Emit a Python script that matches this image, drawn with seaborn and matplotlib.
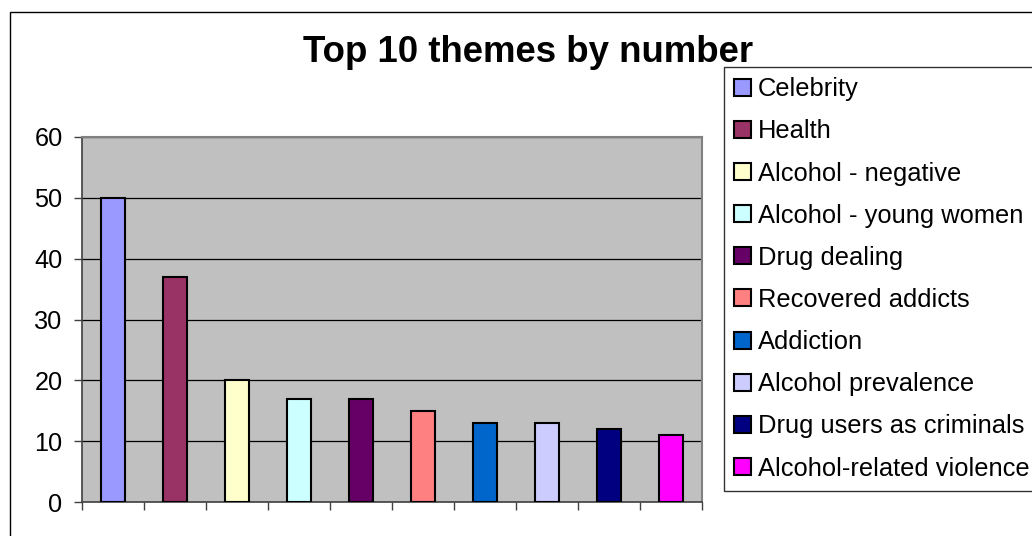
import numpy as np
import pandas as pd
import matplotlib
matplotlib.use("Agg")
import matplotlib.pyplot as plt
from matplotlib.patches import Rectangle
import seaborn as sns

themes = ["Celebrity", "Health", "Alcohol - negative", "Alcohol - young women",
          "Drug dealing", "Recovered addicts", "Addiction", "Alcohol prevalence",
          "Drug users as criminals", "Alcohol-related violence"]
counts = [50, 37, 20, 17, 17, 15, 13, 13, 12, 11]
colors = ["#9999FF", "#993366", "#FFFFCC", "#CCFFFF", "#660066",
          "#FF8080", "#0066CC", "#CCCCFF", "#000080", "#FF00FF"]
yticks = [0, 10, 20, 30, 40, 50, 60]
title = "Top 10 themes by number"

sns.set_theme(style="white")
plt.rcParams["font.family"] = ["Liberation Sans", "DejaVu Sans"]
plt.rcParams["text.color"] = "black"
plt.rcParams["xtick.color"] = "black"
plt.rcParams["ytick.color"] = "black"
plt.rcParams["axes.labelcolor"] = "black"

W, H = 1032, 536
fig = plt.figure(figsize=(W / 100, H / 100), dpi=100)
fig.patch.set_facecolor("white")

# outer chart border
fig.add_artist(Rectangle((10 / W, -0.1), 1.2, 1 - 12 / H + 0.1, transform=fig.transFigure,
                         fill=False, edgecolor="black", linewidth=1.0))

ax = fig.add_axes([82 / W, 1 - 502 / H, (702 - 82) / W, (502 - 137) / H])
df = pd.DataFrame({"theme": themes, "count": counts})
sns.barplot(data=df, x="theme", y="count", hue="theme", palette=colors,
            width=0.4, edgecolor="black", linewidth=1.5, legend=True, ax=ax,
            saturation=1, zorder=3)

ax.set_facecolor("#C0C0C0")
ax.set_ylim(0, 60)
ax.set_xlim(-0.5, 9.5)
ax.set_yticks(yticks)
ax.set_yticklabels([str(v) for v in yticks], fontsize=18.2, color="black")
ax.set_xticks(np.arange(-0.5, 10, 1))
ax.set_xticklabels([])
ax.set_xlabel("")
ax.set_ylabel("")
ax.grid(axis="y", color="black", linewidth=0.9, zorder=0)
ax.set_axisbelow(True)
ax.tick_params(axis="both", direction="out", length=6, width=1, color="#404040",
               left=True, bottom=True, pad=8)
for s in ["top", "right"]:
    ax.spines[s].set_color("#808080")
    ax.spines[s].set_linewidth(1.5)
for s in ["left", "bottom"]:
    ax.spines[s].set_color("#404040")
    ax.spines[s].set_linewidth(1.2)

handles, labels = ax.get_legend_handles_labels()
ax.get_legend().remove()
leg = fig.legend(handles, labels, loc="upper left",
                 bbox_to_anchor=(724 / W, 1 - 67 / H), borderaxespad=0,
                 fontsize=18.4, frameon=True, fancybox=False, edgecolor="black",
                 handlelength=0.65, handleheight=0.65, handletextpad=0.28,
                 labelspacing=0.71, borderpad=0.4, labelcolor="black")
leg.get_frame().set_linewidth(1.0)

fig.text(528 / W, 1 - 53 / H, title, ha="center", va="center",
         fontsize=26.4, fontweight="bold", color="black")

fig.savefig("out.png", dpi=100)
